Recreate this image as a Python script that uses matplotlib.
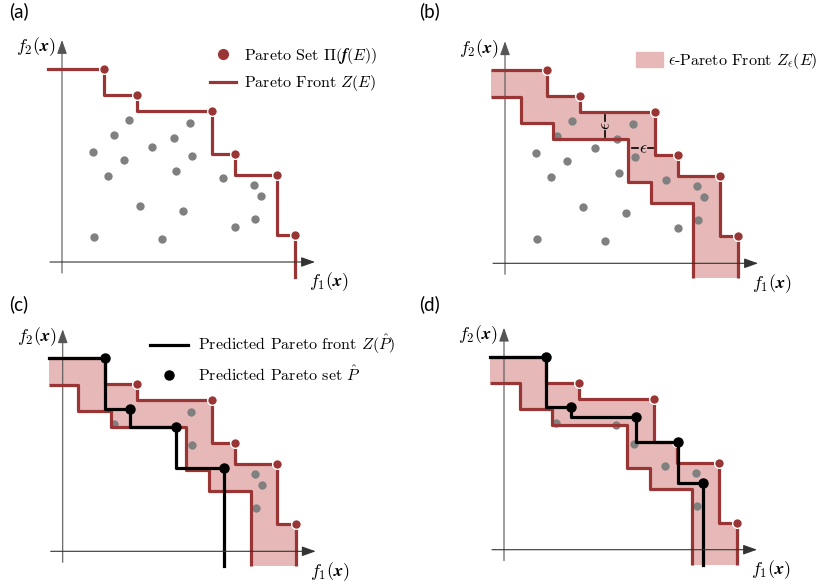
import numpy as np
import matplotlib
matplotlib.use("Agg")
import matplotlib.pyplot as plt
from matplotlib.lines import Line2D
from matplotlib.patches import Patch

plt.rcParams['mathtext.fontset'] = 'cm'
plt.rcParams['mathtext.fallback'] = 'stix'

# --- data (objective space, arbitrary units) ---
# Pareto front points of the evaluated set E
front_f1 = [42, 74.5, 149.5, 172.5, 214.5, 233]
front_f2 = [193, 167, 151, 108, 87, 27]
eps = 26.5

# dominated evaluated points
others_f1 = [30.7, 51.7, 67.3, 46.3, 61.7, 90.3, 112, 128, 129.7, 114,
             78.3, 121, 160.7, 192, 199, 193.3, 173, 31.7, 100]
others_f2 = [110.3, 127, 142, 86.3, 102, 115.3, 124.3, 139, 106, 90.7,
             56.3, 50.7, 83.7, 77, 66.3, 43.3, 35.3, 24.7, 22.7]
# points shown inside the eps band in (c) and (d)
shown_c = [1, 2, 6, 7, 8, 12, 13, 14, 15]
shown_d = [1, 2, 6, 8, 12, 13, 14, 15]

# predicted Pareto sets
pred_c_f1 = [42, 67.5, 113, 161]
pred_c_f2 = [193, 142, 124, 83]
pred_d_f1 = [42, 67, 131.5, 174, 198.5]
pred_d_f2 = [193, 142.4, 133, 107.5, 66.7]

x_left, y_bottom = -14, -15

RED = '#9a3535'
PINK = '#e6b8b8'
GRAY = '#808080'
W, H = 818, 586


def stairs(f1, f2, x0, y_end):
    xs, ys = [x0], [f2[0]]
    for i in range(len(f1)):
        nxt = f2[i + 1] if i + 1 < len(f1) else y_end
        xs += [f1[i], f1[i]]
        ys += [f2[i], nxt]
    return np.array(xs), np.array(ys)


def panel(fig, quad, origin, label):
    qx0, qy0, qx1, qy1 = quad
    ox, oy = origin
    ax = fig.add_axes([qx0 / W, 1 - qy1 / H, (qx1 - qx0) / W, (qy1 - qy0) / H])
    ax.set_xlim(qx0 - ox, qx1 - ox)
    ax.set_ylim(oy - qy1, oy - qy0)
    ax.axis('off')
    arr = dict(arrowstyle='-|>,head_length=0.7,head_width=0.25', color='#333333',
               lw=0.8, shrinkA=0, shrinkB=0, mutation_scale=12)
    ax.annotate('', xy=(253, 0), xytext=(-12, 0), arrowprops=arr, zorder=6)
    ax.annotate('', xy=(0, 222), xytext=(0, -11), arrowprops=dict(arr, color='#555555'), zorder=1)
    ax.text(247, -20, r'$f_1(\mathbfit{x})$', fontsize=13, ha='left', va='center')
    ax.text(-6, 215, r'$f_2(\mathbfit{x})$', fontsize=13, ha='right', va='center')
    fig.text((qx0 + 9) / W, 1 - (qy0 + 2) / H, label, fontsize=13.5, family='Lato',
             ha='left', va='top')
    return ax


def draw_band(ax):
    ux, uy = stairs(front_f1, front_f2, x_left, y_bottom)
    # last point's shifted step falls below the axis, so the lower edge drops it
    lf1 = [v - eps for v in front_f1[:-1]]
    lf2 = [v - eps for v in front_f2[:-1]]
    lx, ly = stairs(lf1, lf2, x_left, y_bottom)
    band = ax.fill(np.concatenate([ux, lx[::-1]]), np.concatenate([uy, ly[::-1]]),
                   color=PINK, lw=0, zorder=0)[0]
    ax.plot(ux, uy, color=RED, lw=2.3, zorder=3, solid_capstyle='butt')
    ax.plot(lx, ly, color=RED, lw=2.3, zorder=3, solid_capstyle='butt')
    ax.plot(front_f1, front_f2, 'o', color=RED, ms=7, mec='white', mew=1, zorder=4)
    return band


def draw_pred(ax, f1, f2):
    px, py = stairs(f1, f2, x_left, y_bottom)
    ln, = ax.plot(px, py, color='black', lw=2.3, zorder=5)
    pt, = ax.plot(f1, f2, 'o', color='black', ms=6.5, zorder=6)
    return ln, pt


fig = plt.figure(figsize=(W / 100, H / 100), dpi=100)
leg_font = dict(family='cmr10', size=11.5)

# (a)
ax = panel(fig, (0, 0, 410, 293), (62, 262), '(a)')
ax.plot(others_f1, others_f2, 'o', color=GRAY, ms=6, mew=0, zorder=2)
fx, fy = stairs(front_f1, front_f2, x_left, y_bottom)
fl, = ax.plot(fx, fy, color=RED, lw=2.3, zorder=3)
fp, = ax.plot(front_f1, front_f2, 'o', color=RED, ms=7, mec='white', mew=1, zorder=4)
ax.legend([Line2D([], [], ls='', marker='o', color=RED, ms=7), fl],
          [r'Pareto Set $\Pi(\mathbfit{f}(E))$', r'Pareto Front $Z(E)$'],
          loc='upper left', bbox_to_anchor=(210 / W, 1 - 46 / H), bbox_transform=fig.transFigure,
          frameon=False, prop=leg_font, handlelength=1.6, handletextpad=0.5,
          borderpad=0, borderaxespad=0, labelspacing=0.45)

# (b)
ax = panel(fig, (410, 0, 818, 293), (505, 263.3), '(b)')
ax.plot(others_f1, others_f2, 'o', color=GRAY, ms=6, mew=0, zorder=2)
band = draw_band(ax)
# eps markers
xm = (front_f1[1] + front_f1[2]) / 2 - 12
y_lo, y_hi = front_f2[2] - eps, front_f2[2]
ym = (y_lo + y_hi) / 2
ax.plot([xm, xm], [y_lo + 2, ym - 5], color='black', lw=1.2, zorder=5)
ax.plot([xm, xm], [ym + 5, y_hi - 3], color='black', lw=1.2, zorder=5)
ax.text(xm, ym, r'$\epsilon$', rotation=90, ha='center', va='center', fontsize=12.5, zorder=6)
x_lo, x_hi = front_f1[2] - eps, front_f1[2]
xm2 = (x_lo + x_hi) / 2 + 2
ym2 = (front_f2[3] + front_f2[2] - eps) / 2 - 1
ax.plot([x_lo + 4, xm2 - 5], [ym2, ym2], color='black', lw=1.2, zorder=5)
ax.plot([xm2 + 5, x_hi - 2], [ym2, ym2], color='black', lw=1.2, zorder=5)
ax.text(xm2, ym2, r'$\epsilon$', ha='center', va='center', fontsize=12.5, zorder=6)
ax.legend([Patch(color=PINK)], [r'$\epsilon$-Pareto Front $Z_\epsilon(E)$'],
          loc='upper left', bbox_to_anchor=(636 / W, 1 - 51 / H), bbox_transform=fig.transFigure,
          frameon=False, prop=leg_font, handlelength=1.7, handleheight=1.1, handletextpad=0.3,
          borderpad=0, borderaxespad=0)

# (c)
ax = panel(fig, (0, 293, 410, 586), (62.7, 551.3), '(c)')
ax.plot([others_f1[i] for i in shown_c], [others_f2[i] for i in shown_c], 'o',
        color=GRAY, ms=6, mew=0, zorder=2)
draw_band(ax)
ln, pt = draw_pred(ax, pred_c_f1, pred_c_f2)
ax.legend([ln, pt], [r'Predicted Pareto front $Z(\hat{P})$', r'Predicted Pareto set $\hat{P}$'],
          loc='upper left', bbox_to_anchor=(150 / W, 1 - 333 / H), bbox_transform=fig.transFigure,
          frameon=False, prop=leg_font, handlelength=2.4, handletextpad=0.6,
          borderpad=0, borderaxespad=0, labelspacing=0.5)

# (d)
ax = panel(fig, (410, 293, 818, 586), (504, 549.7), '(d)')
ax.plot([others_f1[i] for i in shown_d], [others_f2[i] for i in shown_d], 'o',
        color=GRAY, ms=6, mew=0, zorder=2)
draw_band(ax)
draw_pred(ax, pred_d_f1, pred_d_f2)

fig.savefig('out.png', dpi=100)
